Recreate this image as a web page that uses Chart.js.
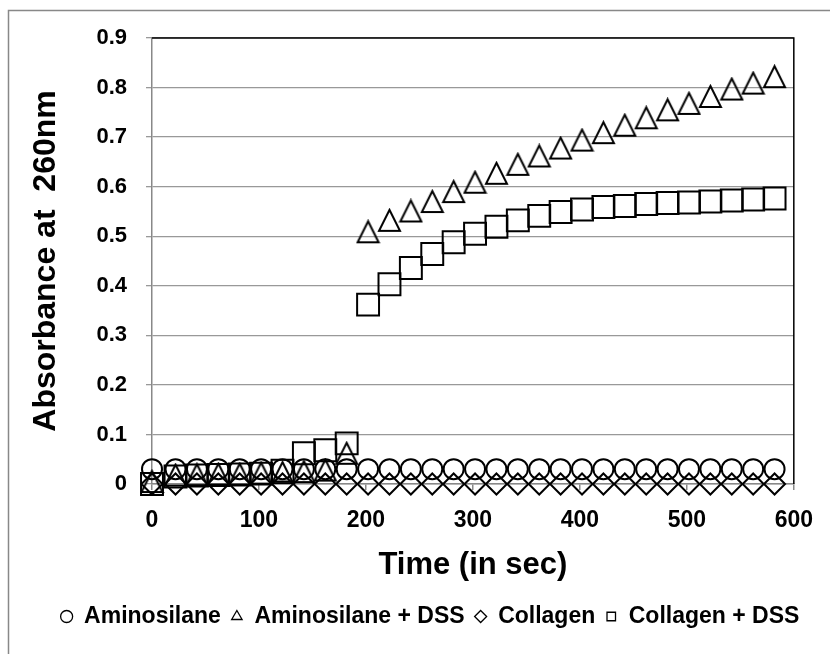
<!DOCTYPE html>
<html>
<head>
<meta charset="utf-8">
<script src="https://cdn.jsdelivr.net/npm/chart.js@4.4.0/dist/chart.umd.min.js"></script>
<style>
  html, body { margin: 0; padding: 0; background: #fff; }
  canvas { display: block; }
</style>
</head>
<body>
<canvas id="chart" width="830" height="654"></canvas>
<script>
// sampling times (sec)
const times = [0, 22, 42, 62, 82, 102, 122, 142, 162, 182, 202, 222, 242, 262, 282,
  302, 322, 342, 362, 382, 402, 422, 442, 462, 482, 502, 522, 542, 562, 582];

const aminosilane = [0.03, 0.03, 0.03, 0.03, 0.03, 0.03, 0.03, 0.03, 0.03, 0.03, 0.03, 0.03, 0.03, 0.03, 0.03,
  0.03, 0.03, 0.03, 0.03, 0.03, 0.03, 0.03, 0.03, 0.03, 0.03, 0.03, 0.03, 0.03, 0.03, 0.03];
const aminosilaneDss = [0.005, 0.018, 0.019, 0.02, 0.02, 0.022, 0.023, 0.025, 0.028, 0.062, 0.509, 0.532, 0.551, 0.57, 0.59,
  0.609, 0.627, 0.645, 0.662, 0.678, 0.694, 0.709, 0.724, 0.739, 0.755, 0.768, 0.782, 0.797, 0.809, 0.822];
const collagen = [0, 0, 0, 0, 0, 0, 0, 0, 0, 0, 0, 0, 0, 0, 0,
  0, 0, 0, 0, 0, 0, 0, 0, 0, 0, 0, 0, 0, 0, 0];
const collagenDss = [0, 0.015, 0.017, 0.018, 0.019, 0.021, 0.027, 0.062, 0.068, 0.082, 0.362, 0.403, 0.436, 0.464, 0.488,
  0.505, 0.519, 0.532, 0.541, 0.549, 0.554, 0.559, 0.561, 0.565, 0.567, 0.568, 0.57, 0.572, 0.574, 0.576];

const seriesNames = ['Aminosilane', 'Aminosilane + DSS', 'Collagen', 'Collagen + DSS'];
const xTitle = 'Time (in sec)';
const yTitle = 'Absorbance at  260nm';

Chart.defaults.font.family = "'Liberation Sans', Arial, sans-serif";
Chart.defaults.font.weight = 'bold';
Chart.defaults.color = '#000';

// Excel style triangle: box centred on the value
function triangleMarker(size) {
  const c = document.createElement('canvas');
  c.width = size + 4;
  c.height = size + 4;
  const g = c.getContext('2d');
  g.beginPath();
  g.moveTo(c.width / 2, 2);
  g.lineTo(c.width - 2, c.height - 2);
  g.lineTo(2, c.height - 2);
  g.closePath();
  g.lineWidth = 2;
  g.strokeStyle = '#000';
  g.stroke();
  return c;
}

const toPoints = vals => times.map((t, i) => ({ x: t, y: vals[i] }));

function series(label, vals, style, radius) {
  return {
    label: label,
    data: toPoints(vals),
    pointStyle: style,
    pointRadius: radius,
    pointBorderWidth: 2,
    pointBorderColor: '#000',
    pointBackgroundColor: 'rgba(0,0,0,0)',
    backgroundColor: 'rgba(0,0,0,0)',
    borderColor: '#000',
    showLine: false,
    clip: false
  };
}

const legendMarkers = ['circle', 'triangle', 'rectRot', 'rect'];

const framePlugin = {
  id: 'frame',
  beforeDraw(chart) {
    const ctx = chart.ctx;
    ctx.save();
    ctx.fillStyle = '#fff';
    ctx.fillRect(0, 0, chart.width, chart.height);
    ctx.strokeStyle = '#888';
    ctx.lineWidth = 1.5;
    ctx.strokeRect(8.5, 10.5, chart.width, chart.height);
    ctx.restore();
  },
  beforeDatasetsDraw(chart) {
    const { ctx, chartArea: a } = chart;
    ctx.save();
    ctx.strokeStyle = '#000';
    ctx.lineWidth = 1.5;
    ctx.beginPath();
    ctx.moveTo(a.left, a.top);
    ctx.lineTo(a.right, a.top);
    ctx.lineTo(a.right, a.bottom);
    ctx.stroke();
    ctx.restore();
  }
};

new Chart(document.getElementById('chart'), {
  type: 'scatter',
  data: {
    datasets: [
      series(seriesNames[0], aminosilane, 'circle', 10),
      series(seriesNames[1], aminosilaneDss, triangleMarker(21), 10),
      series(seriesNames[2], collagen, 'rectRot', 10.5),
      series(seriesNames[3], collagenDss, 'rect', 15.5)
    ]
  },
  options: {
    responsive: false,
    animation: false,
    events: [],
    layout: { padding: { left: 30, right: 0, top: 38, bottom: 16 } },
    plugins: {
      tooltip: { enabled: false },
      legend: {
        position: 'bottom',
        labels: {
          usePointStyle: true,
          boxWidth: 12,
          boxHeight: 8.5,
          padding: 10,
          color: '#000',
          font: { size: 23, weight: 'bold' },
          generateLabels(chart) {
            const items = Chart.defaults.plugins.legend.labels.generateLabels(chart);
            items.forEach((it, i) => {
              it.pointStyle = legendMarkers[i];
              it.lineWidth = 1.3;
              it.fillStyle = 'rgba(0,0,0,0)';
              it.strokeStyle = '#000';
            });
            return items;
          }
        }
      }
    },
    scales: {
      x: {
        type: 'linear',
        min: 0,
        max: 600,
        ticks: { stepSize: 100, padding: 17, color: '#000', font: { size: 23, weight: 'bold' } },
        grid: { drawOnChartArea: false, tickLength: 6, color: '#888', lineWidth: 1.5 },
        border: { color: '#888', width: 1.5 },
        title: {
          display: true,
          text: xTitle,
          color: '#000',
          font: { size: 31, weight: 'bold' },
          padding: { top: 0, bottom: 11 }
        },
        afterFit(s) { s.height = 111; }
      },
      y: {
        type: 'linear',
        min: 0,
        max: 0.9,
        ticks: { stepSize: 0.1, padding: 19, color: '#000', font: { size: 22, weight: 'bold' } },
        grid: { color: '#999', lineWidth: 1.3, tickLength: 6 },
        border: { color: '#888', width: 1.5 },
        title: {
          display: true,
          text: yTitle,
          color: '#000',
          font: { size: 32, weight: 'bold', lineHeight: 1 },
          padding: { top: 0, bottom: 0 }
        },
        afterFit(s) { s.width = 122; }
      },
      yRight: {
        type: 'linear',
        position: 'right',
        display: true,
        grid: { display: false },
        ticks: { display: false },
        border: { display: false },
        afterFit(s) { s.width = 28; }
      }
    }
  },
  plugins: [framePlugin]
});
</script>
</body>
</html>
